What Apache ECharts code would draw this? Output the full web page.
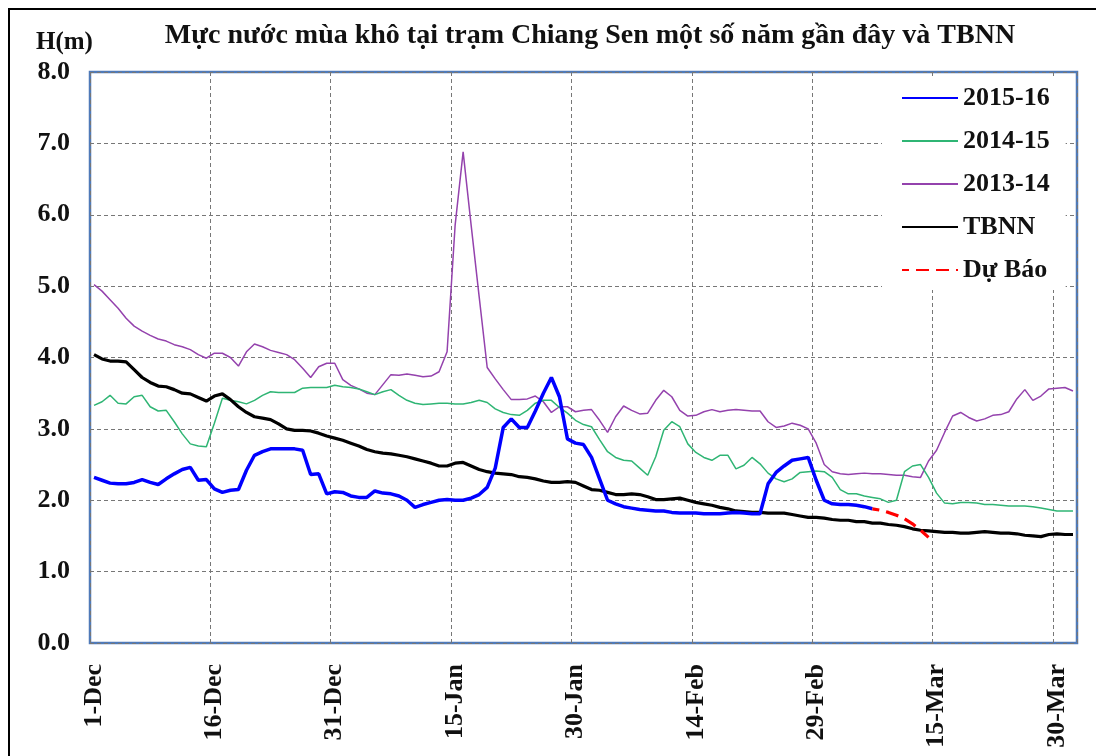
<!DOCTYPE html>
<html>
<head>
<meta charset="utf-8">
<script src="https://cdn.jsdelivr.net/npm/echarts@6/dist/echarts.min.js"></script>
<style>
html,body{margin:0;padding:0;background:#fff;}
#chart{width:1096px;height:756px;}
</style>
</head>
<body>
<div id="chart"></div>
<script>
// Categories: daily dates from 1-Dec to 1-Apr (2015-16 season, leap year)
const months = [['Dec', 31], ['Jan', 31], ['Feb', 29], ['Mar', 31], ['Apr', 1]];
const categories = [];
months.forEach(([m, n]) => { for (let d = 1; d <= n; d++) categories.push(d + '-' + m); });

const yTicks = [0, 1, 2, 3, 4, 5, 6, 7, 8];

const s2015_16 = [2.32,2.28,2.24,2.23,2.23,2.25,2.29,2.25,2.22,2.30,2.37,2.43,2.46,2.28,2.29,2.16,2.11,2.14,2.15,2.42,
2.63,2.68,2.72,2.72,2.72,2.72,2.70,2.36,2.37,2.09,2.12,2.11,2.06,2.04,2.04,2.13,2.10,2.09,2.06,2.00,
1.90,1.94,1.97,2.00,2.01,2.00,2.00,2.03,2.08,2.18,2.45,3.02,3.14,3.02,3.02,3.25,3.50,3.72,3.45,2.86,
2.80,2.78,2.60,2.30,2.00,1.95,1.91,1.89,1.87,1.86,1.85,1.85,1.83,1.82,1.82,1.82,1.81,1.81,1.81,1.82,
1.83,1.82,1.81,1.81,2.23,2.39,2.48,2.56,2.58,2.60,2.28,2.00,1.95,1.94,1.94,1.93,1.91,1.88,null,null,
null,null,null,null,null,null,null,null,null,null,null,null,null,null,null,null,null,null,null,null,
null,null,null];

const s2014_15 = [3.33,3.38,3.47,3.36,3.35,3.45,3.47,3.31,3.25,3.26,3.10,2.93,2.79,2.76,2.75,3.08,3.43,3.40,3.38,3.35,
3.40,3.47,3.52,3.51,3.51,3.51,3.57,3.58,3.58,3.58,3.61,3.59,3.58,3.56,3.52,3.48,3.52,3.55,3.47,3.40,
3.36,3.34,3.35,3.36,3.36,3.35,3.35,3.37,3.40,3.37,3.28,3.23,3.20,3.19,3.26,3.36,3.40,3.40,3.30,3.22,
3.12,3.06,3.03,2.85,2.68,2.60,2.56,2.55,2.45,2.35,2.61,2.98,3.10,3.03,2.79,2.67,2.60,2.56,2.63,2.63,
2.44,2.49,2.60,2.51,2.38,2.30,2.26,2.30,2.39,2.40,2.41,2.40,2.32,2.15,2.09,2.09,2.06,2.04,2.02,1.97,
2.00,2.40,2.48,2.50,2.32,2.10,1.96,1.95,1.97,1.97,1.96,1.94,1.94,1.93,1.92,1.92,1.92,1.91,1.89,1.87,
1.85,1.85,1.85];

const s2013_14 = [5.02,4.93,4.81,4.69,4.55,4.44,4.37,4.31,4.26,4.23,4.18,4.15,4.11,4.04,3.99,4.06,4.06,4.00,3.88,4.08,
4.19,4.15,4.10,4.07,4.04,3.97,3.85,3.72,3.87,3.92,3.92,3.69,3.61,3.56,3.50,3.48,3.62,3.76,3.75,3.77,
3.75,3.73,3.74,3.80,4.08,5.85,6.88,5.85,4.85,3.86,3.70,3.55,3.41,3.41,3.42,3.46,3.38,3.23,3.31,3.31,
3.24,3.26,3.27,3.12,2.95,3.17,3.32,3.26,3.21,3.22,3.40,3.54,3.45,3.26,3.18,3.19,3.24,3.27,3.24,3.26,
3.27,3.26,3.25,3.25,3.10,3.02,3.04,3.08,3.05,3.00,2.80,2.50,2.40,2.37,2.36,2.37,2.38,2.37,2.37,2.36,
2.35,2.35,2.33,2.32,2.55,2.70,2.95,3.18,3.23,3.16,3.11,3.14,3.19,3.20,3.24,3.42,3.55,3.40,3.46,3.56,
3.57,3.58,3.53];

const sTBNN = [4.04,3.98,3.95,3.95,3.94,3.83,3.72,3.65,3.60,3.59,3.55,3.50,3.49,3.44,3.39,3.46,3.49,3.41,3.31,3.23,
3.17,3.15,3.13,3.07,3.00,2.98,2.98,2.97,2.94,2.90,2.87,2.84,2.80,2.76,2.71,2.68,2.66,2.65,2.63,2.61,
2.58,2.55,2.52,2.48,2.48,2.52,2.53,2.48,2.43,2.40,2.38,2.37,2.36,2.33,2.32,2.30,2.27,2.25,2.25,2.26,
2.25,2.20,2.15,2.14,2.11,2.08,2.08,2.09,2.08,2.05,2.01,2.01,2.02,2.03,2.00,1.97,1.95,1.93,1.90,1.88,
1.85,1.84,1.83,1.83,1.82,1.82,1.82,1.80,1.78,1.76,1.76,1.75,1.73,1.72,1.72,1.70,1.70,1.68,1.68,1.66,
1.65,1.63,1.60,1.58,1.57,1.56,1.55,1.55,1.54,1.54,1.55,1.56,1.55,1.54,1.54,1.53,1.51,1.50,1.49,1.52,
1.53,1.52,1.52];

const sDuBao = [null,null,null,null,null,null,null,null,null,null,null,null,null,null,null,null,null,null,null,null,
null,null,null,null,null,null,null,null,null,null,null,null,null,null,null,null,null,null,null,null,
null,null,null,null,null,null,null,null,null,null,null,null,null,null,null,null,null,null,null,null,
null,null,null,null,null,null,null,null,null,null,null,null,null,null,null,null,null,null,null,null,
null,null,null,null,null,null,null,null,null,null,null,null,null,null,null,null,null,1.88,1.86,1.83,
1.79,1.74,1.67,1.58,1.48,null,null,null,null,null,null,null,null,null,null,null,null,null,null,null,
null,null,null];

const seriesNames = ['2015-16', '2014-15', '2013-14', 'TBNN', 'Dự Báo'];
const serif = '"Liberation Serif", "Times New Roman", "DejaVu Serif", serif';
const textColor = '#111';

const chart = echarts.init(document.getElementById('chart'), null, { renderer: 'canvas' });

function lineSeries(name, data, color, width, type, z, dashOffset) {
  return {
    name: name, type: 'line', data: data, symbol: 'none', smooth: false,
    connectNulls: false, z: z,
    lineStyle: { color: color, width: width, type: type || 'solid', dashOffset: dashOffset || 0 },
    itemStyle: { color: color },
    emphasis: { disabled: true }
  };
}

chart.setOption({
  animation: false,
  backgroundColor: '#fff',
  title: {
    text: 'Mực nước mùa khô tại trạm Chiang Sen một số năm gần đây và TBNN',
    left: 585, top: 17, textAlign: 'center',
    textStyle: { fontFamily: serif, fontWeight: 'bold', fontSize: 28, color: textColor }
  },
  graphic: [
    { type: 'rect', shape: { x: 9, y: 9, width: 1110, height: 770 }, style: { fill: 'none', stroke: '#000', lineWidth: 2 }, silent: true, z: 100 },
    { type: 'text', left: 36, top: 30, style: { text: 'H(m)', font: 'bold 25px ' + serif, fill: textColor }, z: 100 }
  ],
  legend: {
    data: seriesNames,
    orient: 'vertical',
    left: 882, top: 78,
    backgroundColor: '#fff',
    padding: [7, 16, 7, 19],
    itemWidth: 56, itemHeight: 14, itemGap: 17, itemTextGap: 6,
    itemStyle: { opacity: 0 },
    textStyle: { fontFamily: serif, fontWeight: 'bold', fontSize: 26, color: textColor, lineHeight: 24 },
    z: 10
  },
  grid: {
    left: 90, top: 72, width: 987, height: 571,
    show: true, borderColor: '#4f7ab8', borderWidth: 2.5, backgroundColor: 'transparent',
    containLabel: false
  },
  xAxis: {
    type: 'category', data: categories, boundaryGap: true,
    axisLine: { show: false },
    axisTick: { show: false, interval: 14 },
    splitLine: { show: true, interval: 14, lineStyle: { color: '#777', type: [4, 3], width: 1 } },
    axisLabel: { interval: 14, rotate: 90, margin: 21, fontFamily: serif, fontWeight: 'bold', fontSize: 26, color: textColor }
  },
  yAxis: {
    type: 'value', min: yTicks[0], max: yTicks[yTicks.length - 1], interval: 1,
    axisLine: { show: false }, axisTick: { show: false },
    splitLine: { show: true, lineStyle: { color: '#777', type: [4, 3], width: 1 } },
    axisLabel: { margin: 20, fontFamily: serif, fontWeight: 'bold', fontSize: 26, color: textColor,
      formatter: v => v.toFixed(1) }
  },
  series: [
    lineSeries('2013-14', s2013_14, '#9442ad', 1.5, 'solid', 2),
    lineSeries('2014-15', s2014_15, '#2fb574', 1.5, 'solid', 3),
    lineSeries('TBNN', sTBNN, '#000000', 3.2, 'solid', 4),
    lineSeries('2015-16', s2015_16, '#0000ff', 3.5, 'solid', 5),
    lineSeries('Dự Báo', sDuBao, '#ff0000', 3.2, [13, 7], 6, 6)
  ]
});
</script>
</body>
</html>
